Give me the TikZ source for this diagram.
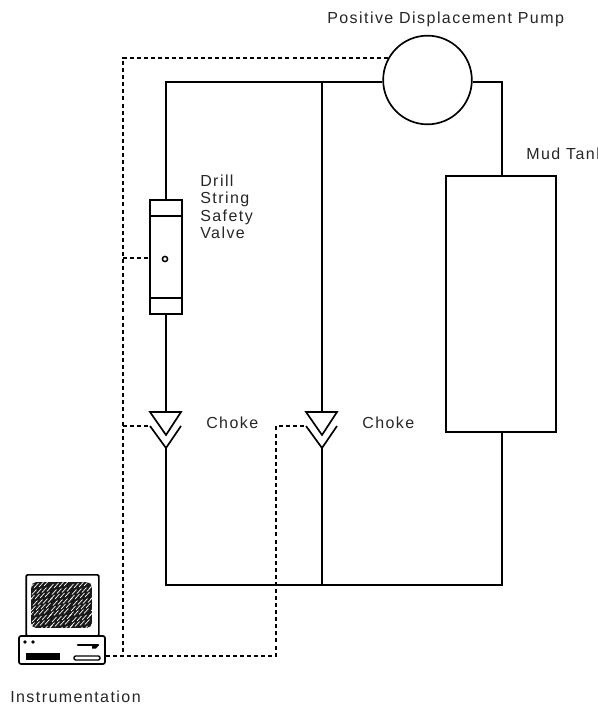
\documentclass[tikz,border=0pt]{standalone}
\usepackage{fontspec}
\setmainfont[LetterSpace=9]{Liberation Sans}
\tikzset{
	pipe/.style={line width=1.25pt},
	signal/.style={line width=1.25pt,dash pattern=on 3pt off 2.3pt},
	label/.style={inner sep=0,anchor=base west,font=\fontsize{12}{13}\selectfont,text=black!85},
}
\begin{document}
\begin{tikzpicture}[x=0.75pt,y=-0.75pt]
	\useasboundingbox (0,0) rectangle (598,705);
	\node[draw,pipe,circle,minimum size=66.5pt,inner sep=0] (pump) at (427.5,80) {};
	\node[draw,pipe,rectangle,minimum width=82.5pt,minimum height=192pt,inner sep=0] (tank) at (501,304) {};
	\node[draw,pipe,rectangle,minimum width=24pt,minimum height=85.5pt,inner sep=0] (valve) at (166,257) {};
	\draw[pipe] (150,216) to (182,216);
	\draw[pipe] (150,298) to (182,298);
	\draw[line width=1.1pt,fill=white] (165,259) circle (2.6);
	\coordinate (C1t) at (166,412);
	\coordinate (C1m) at (166,435);
	\coordinate (C1b) at (166,448);
	\coordinate (C1l) at (150,426);
	\coordinate (C2t) at (322,412);
	\coordinate (C2m) at (322,435);
	\coordinate (C2b) at (322,448);
	\coordinate (C2l) at (306,426);
	\draw[pipe] (150,412) to (181,412) to (C1m) to cycle;
	\draw[pipe] (C1l) to (C1b) to (181,426);
	\draw[pipe] (306,412) to (337,412) to (C2m) to cycle;
	\draw[pipe] (C2l) to (C2b) to (337,426);
	\coordinate (T1) at (166,82);
	\coordinate (T2) at (322,82);
	\coordinate (T3) at (502,82);
	\coordinate (B1) at (166,585);
	\coordinate (B2) at (322,585);
	\coordinate (B3) at (502,585);
	\draw[pipe] (pump.west |- T1) to (T1) to (valve.north);
	\draw[pipe] (valve.south) to (C1t);
	\draw[pipe] (T2) to (C2t);
	\draw[pipe] (pump.east |- T3) to (T3) to (502,176);
	\draw[pipe] (C1b) to (B1) to (B3) to (502,432);
	\draw[pipe] (C2b) to (B2);
	% computer
	\node[draw,pipe,rectangle,rounded corners=1pt,minimum width=54.5pt,minimum height=46pt,inner sep=0] (monitor) at (62.5,605.5) {};
	\node[draw,pipe,rectangle,rounded corners=1.5pt,fill=white,minimum width=64.5pt,minimum height=21pt,inner sep=0] (base) at (62,650) {};
	\begin{scope}
		\clip[rounded corners=4pt] (31,582) rectangle (92,628);
		\fill[black!90] (31,582) rectangle (92,628);
		\foreach \i in {0,...,14}
			\foreach \j in {0,...,8}
				\draw[white,line width=0.5pt,line cap=round] ({24+\i*5+mod(\j*3,5)},{586+\j*5.5+mod(\i*3,4)}) to ++(4.5,-5);
	\end{scope}
	\fill (25,642) circle (1.8);
	\fill (33,642) circle (1.8);
	\fill (26,653) rectangle (60,660);
	\draw[line width=1pt,rounded corners=1pt] (74,656) rectangle (100,660);
	\draw[line width=2pt,line cap=round] (78,645) to (98,645);
	\fill (92,645) -- (99,645) -- (96,648.5) -- (92,648.5) -- cycle;
	% signal lines
	\coordinate (S1) at (123,58);
	\coordinate (S2) at (123,656);
	\coordinate (S3) at (276,656);
	\coordinate (S4) at (276,426);
	\coordinate (S5) at (123,258);
	\coordinate (S6) at (123,426);
	\draw[signal] (pump.150 |- S1) to (S1) to (S2);
	\draw[signal] (S5) to (valve.west |- S5);
	\draw[signal] (S6) to (C1l);
	\draw[signal] (base.east |- S3) to (S3) to (S4) to (C2l);
	% labels
	\node[label] (pumplabel) at (327,24) {Positive Displacement Pump};
	\node[label] (tanklabel) at (526,160) {Mud Tank};
	\node[label,align=left,anchor=north west] (valvelabel) at (200,174.5) {Drill\\String\\Safety\\Valve};
	\node[label] (choke1label) at (206,428) {Choke};
	\node[label] (choke2label) at (362,428) {Choke};
	\node[label] (instlabel) at (10,702) {Instrumentation};
\end{tikzpicture}
\end{document}
